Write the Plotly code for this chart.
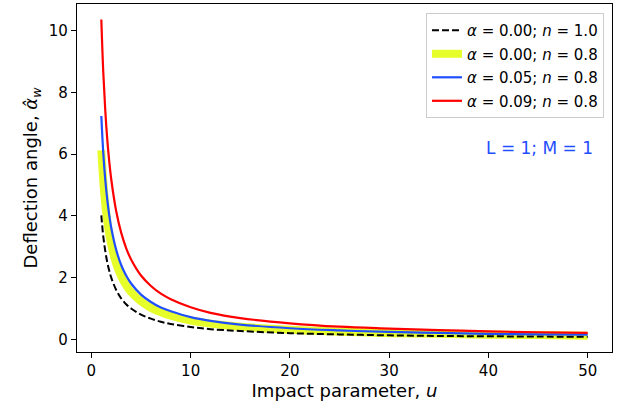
import plotly.graph_objects as go

u = [1, 1.2, 1.4, 1.6, 1.8, 2, 2.5, 3, 3.5, 4, 5, 6, 7, 8, 10, 12, 15, 20, 25, 30, 35, 40, 45, 50]

black_n10 = [4.02, 3.33, 2.86, 2.50, 2.22, 2.00, 1.60, 1.33, 1.14, 1.00, 0.80, 0.67, 0.57, 0.50,
             0.40, 0.33, 0.27, 0.20, 0.16, 0.13, 0.11, 0.10, 0.09, 0.08]
yellow_a000 = [6.13, 5.11, 4.38, 3.83, 3.41, 3.07, 2.45, 2.04, 1.75, 1.53, 1.23, 1.02, 0.88, 0.77,
               0.61, 0.51, 0.41, 0.31, 0.25, 0.20, 0.18, 0.15, 0.14, 0.12]
blue_a005 = [7.24, 6.03, 5.17, 4.53, 4.02, 3.62, 2.90, 2.41, 2.07, 1.81, 1.45, 1.21, 1.03, 0.91,
             0.72, 0.60, 0.48, 0.36, 0.29, 0.24, 0.21, 0.18, 0.16, 0.15]
red_a009 = [10.37, 8.64, 7.41, 6.48, 5.76, 5.19, 4.15, 3.46, 2.96, 2.59, 2.07, 1.73, 1.48, 1.30,
            1.04, 0.86, 0.69, 0.52, 0.41, 0.35, 0.30, 0.26, 0.23, 0.21]

names = ["<i>α</i> = 0.00; <i>n</i> = 1.0",
         "<i>α</i> = 0.00; <i>n</i> = 0.8",
         "<i>α</i> = 0.05; <i>n</i> = 0.8",
         "<i>α</i> = 0.09; <i>n</i> = 0.8"]

FONT = "DejaVu Sans"
BLUE = "#1f4fff"

fig = go.Figure()
fig.add_trace(go.Scatter(x=u, y=yellow_a000, mode="lines", name=names[1], legendrank=2, legendgroup="g2",
                         line=dict(color="#e6ff2a", width=8, shape="spline")))
fig.add_trace(go.Scatter(x=u, y=black_n10, mode="lines", name=names[0], legendrank=1, legendgroup="g1",
                         line=dict(color="black", width=2, dash="7px,3px", shape="spline")))
fig.add_trace(go.Scatter(x=u, y=blue_a005, mode="lines", name=names[2], legendrank=3, legendgroup="g3",
                         line=dict(color=BLUE, width=2.2, shape="spline")))
fig.add_trace(go.Scatter(x=u, y=red_a009, mode="lines", name=names[3], legendrank=4, legendgroup="g4",
                         line=dict(color="red", width=2.2, shape="spline")))

fig.add_annotation(x=50.7, y=6.2, xref="x", yref="y", text="L = 1; M = 1", showarrow=False,
                   xanchor="right", yanchor="middle", font=dict(family=FONT, size=17, color=BLUE))

axis_common = dict(showline=True, linecolor="black", linewidth=1.3, mirror=True,
                   ticks="outside", ticklen=5, tickcolor="black", tickwidth=1,
                   showgrid=False, zeroline=False, automargin=False,
                   tickfont=dict(family=FONT, size=15, color="black"))

fig.update_layout(
    width=621, height=410,
    margin=dict(l=77, r=9, t=4, b=58),
    paper_bgcolor="white", plot_bgcolor="white",
    font=dict(family=FONT, size=15, color="black"),
    xaxis=dict(range=[-1.45, 52.45], tickvals=[0, 10, 20, 30, 40, 50],
               title=dict(text="Impact parameter, <i>u</i>", font=dict(family=FONT, size=18), standoff=4),
               **axis_common),
    yaxis=dict(range=[-0.41, 10.87], tickvals=[0, 2, 4, 6, 8, 10],
               title=dict(text="Deflection angle, <i>α\u0302</i><sub><i>w</i></sub>", font=dict(family=FONT, size=18), standoff=6),
               **axis_common),
    legend=dict(x=0.985, y=0.974, xanchor="right", yanchor="top",
                bgcolor="white", bordercolor="#cccccc", borderwidth=1,
                font=dict(family=FONT, size=15), tracegroupgap=1),
    showlegend=True,
)

fig.write_html("out.html", config={"displayModeBar": False},
               post_script="document.body.style.margin='0px';")
